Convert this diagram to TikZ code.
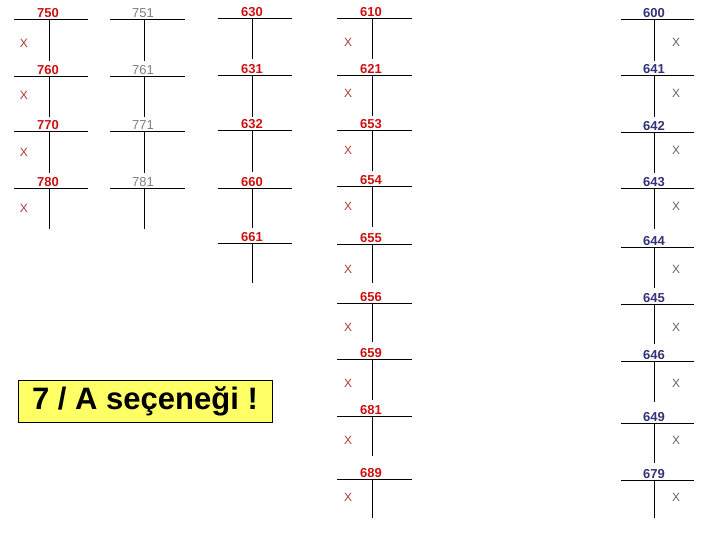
\documentclass[tikz,border=0pt]{standalone}
\usepackage{fontspec}
\setmainfont{Liberation Sans}
\definecolor{accred}{HTML}{CC1111}
\definecolor{accgray}{HTML}{808080}
\definecolor{accblue}{HTML}{333377}
\definecolor{xred}{HTML}{B03A3A}
\definecolor{xgray}{HTML}{666666}
\definecolor{noteyellow}{HTML}{FFFF66}
\tikzset{
  tline/.style={line width=1pt},
  redlbl/.style={anchor=base, inner sep=0pt, text=accred, font=\fontsize{13}{15}\selectfont\bfseries},
  graylbl/.style={anchor=base, inner sep=0pt, text=accgray, font=\fontsize{13}{15}\selectfont},
  bluelbl/.style={anchor=base, inner sep=0pt, text=accblue, font=\fontsize{13}{15}\selectfont\bfseries},
  redx/.style={inner sep=0pt, text=xred, font=\fontsize{12}{14}\selectfont},
  grayx/.style={inner sep=0pt, text=xgray, font=\fontsize{12}{14}\selectfont},
  notebox/.style={draw, line width=1pt, fill=noteyellow, minimum width=254pt, minimum height=42pt, font=\fontsize{31}{36}\selectfont\bfseries}
}
\begin{document}
\begin{tikzpicture}[x=1pt,y=-1pt]
\useasboundingbox (0,0) rectangle (720,540);

% First column: 750 - 780
\draw[tline] (14,20) -- (88,20) (49,20) -- (49,61);
\node[redlbl] (a750) at (48,18) {750};
\node[redx] (x750) at (24,43) {X};
\draw[tline] (14,77) -- (88,77) (49,77) -- (49,117);
\node[redlbl] (a760) at (48,75) {760};
\node[redx] (x760) at (24,95) {X};
\draw[tline] (14,132) -- (88,132) (49,132) -- (49,173);
\node[redlbl] (a770) at (48,130) {770};
\node[redx] (x770) at (24,152) {X};
\draw[tline] (14,189) -- (88,189) (49,189) -- (49,229);
\node[redlbl] (a780) at (48,187) {780};
\node[redx] (x780) at (24,208) {X};

% Second column: 751 - 781
\draw[tline] (110,20) -- (185,20) (144,20) -- (144,61);
\node[graylbl] (a751) at (143,18) {751};
\draw[tline] (110,77) -- (185,77) (144,77) -- (144,117);
\node[graylbl] (a761) at (143,75) {761};
\draw[tline] (110,132) -- (185,132) (144,132) -- (144,173);
\node[graylbl] (a771) at (143,130) {771};
\draw[tline] (110,189) -- (185,189) (144,189) -- (144,229);
\node[graylbl] (a781) at (143,187) {781};

% Third column: 630 - 661
\draw[tline] (218,19) -- (292,19) (252,19) -- (252,59);
\node[redlbl] (a630) at (252,17) {630};
\draw[tline] (218,76) -- (292,76) (252,76) -- (252,117);
\node[redlbl] (a631) at (252,74) {631};
\draw[tline] (218,131) -- (292,131) (252,131) -- (252,172);
\node[redlbl] (a632) at (252,129) {632};
\draw[tline] (218,189) -- (292,189) (252,189) -- (252,228);
\node[redlbl] (a660) at (252,187) {660};
\draw[tline] (218,243) -- (292,243) (252,243) -- (252,283);
\node[redlbl] (a661) at (252,241) {661};

% Fourth column: 610 - 689
\draw[tline] (337,19) -- (412,19) (372,19) -- (372,59);
\node[redlbl] (a610) at (371,17) {610};
\node[redx] (x610) at (348,42) {X};
\draw[tline] (337,76) -- (412,76) (372,76) -- (372,116);
\node[redlbl] (a621) at (371,74) {621};
\node[redx] (x621) at (348,93) {X};
\draw[tline] (337,131) -- (412,131) (372,131) -- (372,171);
\node[redlbl] (a653) at (371,129) {653};
\node[redx] (x653) at (348,150) {X};
\draw[tline] (337,187) -- (412,187) (372,187) -- (372,227);
\node[redlbl] (a654) at (371,185) {654};
\node[redx] (x654) at (348,206) {X};
\draw[tline] (337,244) -- (412,244) (372,244) -- (372,283);
\node[redlbl] (a655) at (371,242) {655};
\node[redx] (x655) at (348,269) {X};
\draw[tline] (337,303) -- (412,303) (372,303) -- (372,342);
\node[redlbl] (a656) at (371,301) {656};
\node[redx] (x656) at (348,327) {X};
\draw[tline] (337,359) -- (412,359) (372,359) -- (372,400);
\node[redlbl] (a659) at (371,357) {659};
\node[redx] (x659) at (348,383) {X};
\draw[tline] (337,416) -- (412,416) (372,416) -- (372,456);
\node[redlbl] (a681) at (371,414) {681};
\node[redx] (x681) at (348,440) {X};
\draw[tline] (337,479) -- (412,479) (372,479) -- (372,518);
\node[redlbl] (a689) at (371,477) {689};
\node[redx] (x689) at (348,497) {X};

% Fifth column: 600 - 679
\draw[tline] (621,20) -- (694,20) (654,20) -- (654,61);
\node[bluelbl] (a600) at (654,18) {600};
\node[grayx] (x600) at (676,42) {X};
\draw[tline] (621,76) -- (694,76) (654,76) -- (654,117);
\node[bluelbl] (a641) at (654,74) {641};
\node[grayx] (x641) at (676,93) {X};
\draw[tline] (621,133) -- (694,133) (654,133) -- (654,173);
\node[bluelbl] (a642) at (654,131) {642};
\node[grayx] (x642) at (676,150) {X};
\draw[tline] (621,189) -- (694,189) (654,189) -- (654,229);
\node[bluelbl] (a643) at (654,187) {643};
\node[grayx] (x643) at (676,206) {X};
\draw[tline] (621,247) -- (694,247) (654,247) -- (654,288);
\node[bluelbl] (a644) at (654,245) {644};
\node[grayx] (x644) at (676,269) {X};
\draw[tline] (621,304) -- (694,304) (654,304) -- (654,344);
\node[bluelbl] (a645) at (654,302) {645};
\node[grayx] (x645) at (676,327) {X};
\draw[tline] (621,361) -- (694,361) (654,361) -- (654,402);
\node[bluelbl] (a646) at (654,359) {646};
\node[grayx] (x646) at (676,383) {X};
\draw[tline] (621,423) -- (694,423) (654,423) -- (654,463);
\node[bluelbl] (a649) at (654,421) {649};
\node[grayx] (x649) at (676,440) {X};
\draw[tline] (621,480) -- (694,480) (654,480) -- (654,518);
\node[bluelbl] (a679) at (654,478) {679};
\node[grayx] (x679) at (676,497) {X};

% Yellow note
\node[notebox] (note) at (145,401) {7 / A seçeneği !};
\end{tikzpicture}
\end{document}
